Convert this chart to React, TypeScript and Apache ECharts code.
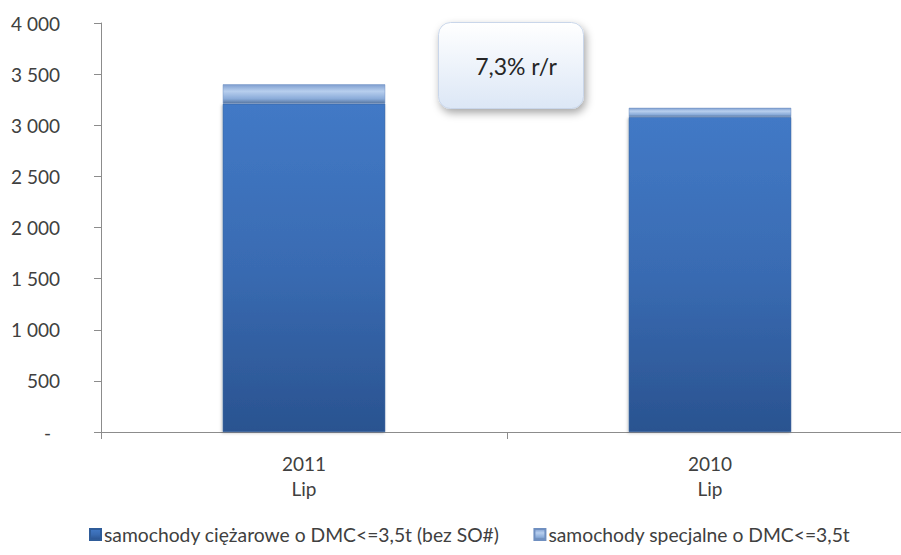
import React, { useEffect, useRef } from "react";
import * as echarts from "echarts";

const categories = ["2011\nLip", "2010\nLip"];
const seriesNames = [
  "samochody ciężarowe o DMC<=3,5t (bez SO#)",
  "samochody specjalne o DMC<=3,5t",
];
const trucks = [3210, 3080];
const special = [190, 90];
const yTicks = [0, 500, 1000, 1500, 2000, 2500, 3000, 3500, 4000];
const annotation = "7,3% r/r";

const FONT = "Lato, 'Open Sans', sans-serif";

function fmt(v: number): string {
  if (v === 0) return "{z|-}";
  const s = String(v);
  if (s.length > 3) return s.slice(0, s.length - 3) + " " + s.slice(s.length - 3);
  return s;
}

export default function App() {
  const ref = useRef<HTMLDivElement>(null);
  useEffect(() => {
    if (!ref.current) return;
    const chart = echarts.init(ref.current, undefined, { renderer: "svg" });
    const grad1 = new echarts.graphic.LinearGradient(0, 0, 0, 1, [
      { offset: 0, color: "#4279c6" },
      { offset: 0.5, color: "#396bb2" },
      { offset: 1, color: "#2a5390" },
    ]);
    const grad2 = new echarts.graphic.LinearGradient(0, 0, 0, 1, [
      { offset: 0, color: "#7f9fd0" },
      { offset: 0.35, color: "#b8cfee" },
      { offset: 0.75, color: "#8aabd9" },
      { offset: 1, color: "#56759f" },
    ]);
    chart.setOption({
      animation: false,
      backgroundColor: "#ffffff",
      textStyle: { fontFamily: FONT },
      grid: { left: 101, width: 812, top: 23, bottom: 123, outerBoundsMode: "none", containLabel: false },
      legend: {
        left: 84,
        top: 520,
        icon: "rect",
        itemWidth: 11,
        itemHeight: 11,
        itemGap: 34,
        textStyle: { fontFamily: FONT, fontSize: 19.3, color: "#404040", padding: [0, 0, 0, -2] },
        data: seriesNames,
      },
      xAxis: {
        type: "category",
        data: categories,
        axisLine: { lineStyle: { color: "#8c8c8c" } },
        axisTick: { show: true, length: 7, lineStyle: { color: "#8c8c8c" } },
        axisLabel: {
          fontFamily: FONT,
          fontSize: 19,
          color: "#404040",
          lineHeight: 25,
          margin: 19,
        },
      },
      yAxis: {
        type: "value",
        min: 0,
        max: 4000,
        interval: 500,
        axisLine: { show: true, lineStyle: { color: "#8c8c8c" } },
        axisTick: { show: true, length: 7, lineStyle: { color: "#8c8c8c" } },
        splitLine: { show: false },
        axisLabel: {
          fontFamily: FONT,
          fontSize: 19,
          color: "#404040",
          margin: 41,
          formatter: (v: number) => (yTicks.includes(v) ? fmt(v) : ""),
          rich: {
            z: { fontFamily: FONT, fontSize: 19, color: "#404040", padding: [0, 9, 0, 0] },
          },
        },
      },
      series: [
        {
          name: seriesNames[0],
          type: "bar",
          stack: "total",
          barWidth: "40%",
          data: trucks,
          itemStyle: {
            color: grad1,
            borderColor: "#2f5c99",
            borderWidth: 0.5,
            shadowColor: "rgba(0,0,0,0.25)",
            shadowBlur: 3,
            shadowOffsetX: -1,
            shadowOffsetY: 1,
          },
        },
        {
          name: seriesNames[1],
          type: "bar",
          stack: "total",
          barWidth: "40%",
          data: special,
          itemStyle: { color: grad2, borderColor: "#6f8fc0", borderWidth: 0.5 },
        },
      ],
      graphic: [
        {
          type: "rect",
          left: 438,
          top: 22,
          shape: { width: 145, height: 86, r: 12 },
          style: {
            fill: new echarts.graphic.LinearGradient(0, 0, 0, 1, [
              { offset: 0, color: "#ffffff" },
              { offset: 1, color: "#dce7f6" },
            ]),
            stroke: "#c9d6ea",
            lineWidth: 1,
            shadowBlur: 9,
            shadowColor: "rgba(0,0,0,0.35)",
            shadowOffsetX: 2,
            shadowOffsetY: 4,
          },
          z: 10,
        },
        {
          type: "text",
          x: 516,
          y: 66,
          style: {
            text: annotation,
            fontFamily: FONT,
            fontSize: 23,
            fill: "#262626",
            align: "center",
            verticalAlign: "middle",
          },
          z: 11,
        },
      ],
    });
    return () => chart.dispose();
  }, []);
  return (
    <div
      ref={ref}
      style={{ position: "fixed", left: 0, top: 0, width: 901, height: 555 }}
    />
  );
}
